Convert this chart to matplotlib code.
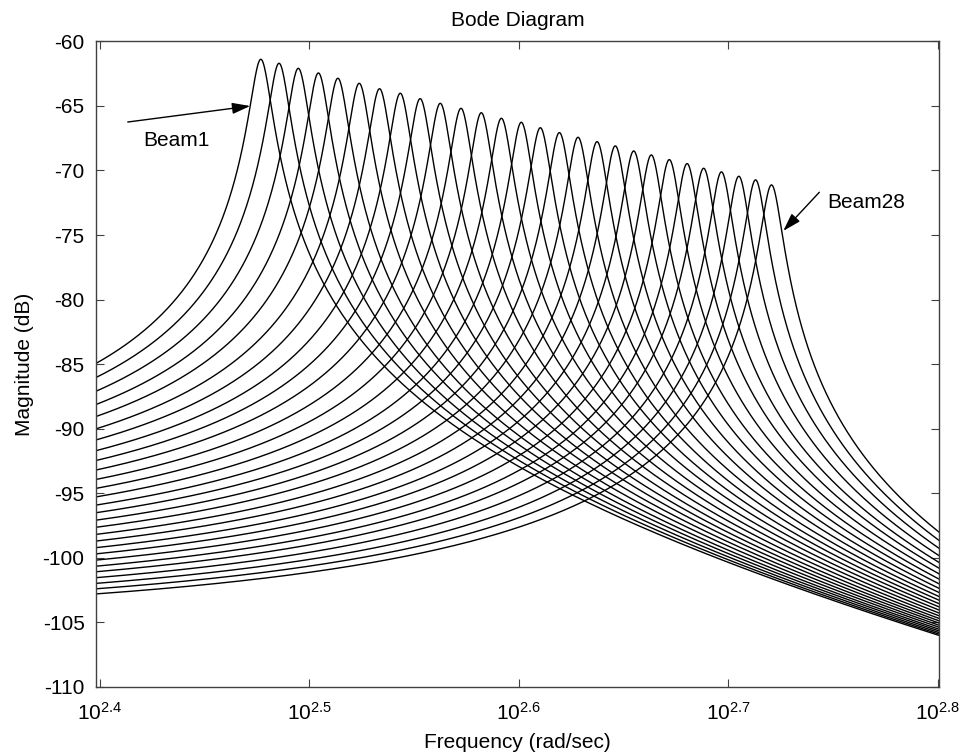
import numpy as np
import matplotlib
matplotlib.use("Agg")
from matplotlib import pyplot as plt
from matplotlib.ticker import FixedLocator, FixedFormatter, NullLocator

plt.rcParams['font.family'] = ['Liberation Sans', 'DejaVu Sans']
plt.rcParams['mathtext.fontset'] = 'custom'
plt.rcParams['mathtext.rm'] = 'Liberation Sans'
plt.rcParams['mathtext.it'] = 'Liberation Sans'

# resonance of each beam (log10 of rad/sec, dB)
peak_logw = [2.4768, 2.4855, 2.4947, 2.5043, 2.5136, 2.5238, 2.5335,
             2.5434, 2.5529, 2.5625, 2.5724, 2.5821, 2.5917, 2.6012,
             2.6103, 2.6194, 2.6283, 2.6374, 2.6461, 2.6549, 2.6633,
             2.6719, 2.6804, 2.6883, 2.6968, 2.7051, 2.7131, 2.7207]
peak_db = [-61.39, -61.70, -62.09, -62.45, -62.86, -63.25, -63.67,
           -64.02, -64.44, -64.80, -65.19, -65.53, -65.96, -66.27,
           -66.69, -67.07, -67.43, -67.77, -68.10, -68.49, -68.80,
           -69.16, -69.47, -69.83, -70.11, -70.45, -70.73, -71.12]
gain = 1.55  # common numerator, from the low frequency level

xtick_exp = [2.4, 2.5, 2.6, 2.7, 2.8]
yticks = list(range(-110, -55, 5))

fig = plt.figure(figsize=(9.62, 7.54), dpi=100)
ax = fig.add_axes([0.0995, 0.0889, 0.8771, 0.8563])

w = np.logspace(2.3979, 2.8009, 3000)
for lw_, pk in zip(peak_logw, peak_db):
    wn = 10 ** lw_
    zeta = gain / (2 * wn**2 * 10 ** (pk / 20))
    h = gain / (wn**2 - w**2 + 2j * zeta * wn * w)
    ax.plot(w, 20 * np.log10(np.abs(h)), color='k', lw=1.0)

ax.set_xscale('log')
ax.set_xlim(10 ** 2.3979, 10 ** 2.8009)
ax.set_ylim(-110, -60)
ax.xaxis.set_major_locator(FixedLocator([10 ** e for e in xtick_exp]))
ax.xaxis.set_major_formatter(FixedFormatter([r'$10^{%g}$' % e for e in xtick_exp]))
ax.xaxis.set_minor_locator(NullLocator())
ax.set_yticks(yticks)
ax.set_yticklabels([str(v) for v in yticks])

ax.tick_params(direction='in', length=6, width=0.8, color='0.25',
               top=True, right=True, labelsize=15, colors='k')
ax.tick_params(axis='y', pad=8)
ax.tick_params(axis='x', pad=10.5)
for s in ax.spines.values():
    s.set_color('0.25')
    s.set_linewidth(1.0)

ax.set_title('Bode Diagram', fontsize=15, pad=11)
ax.set_xlabel('Frequency (rad/sec)', fontsize=15, labelpad=7)
ax.set_ylabel('Magnitude (dB)', fontsize=15, labelpad=6)

arrow = dict(arrowstyle='-|>,head_length=0.55,head_width=0.17',
             mutation_scale=20, color='k', lw=1.0, shrinkA=0, shrinkB=0)
ax.annotate('', xy=(10 ** 2.4717, -65.01), xytext=(10 ** 2.4132, -66.25),
            arrowprops=arrow)
ax.text(10 ** 2.4205, -67.7, 'Beam1', fontsize=15, va='center', ha='left')
ax.annotate('', xy=(10 ** 2.7263, -74.68), xytext=(10 ** 2.7435, -71.69),
            arrowprops=arrow)
ax.text(10 ** 2.7475, -72.45, 'Beam28', fontsize=15, va='center', ha='left')

fig.savefig('out.png', dpi=100)
